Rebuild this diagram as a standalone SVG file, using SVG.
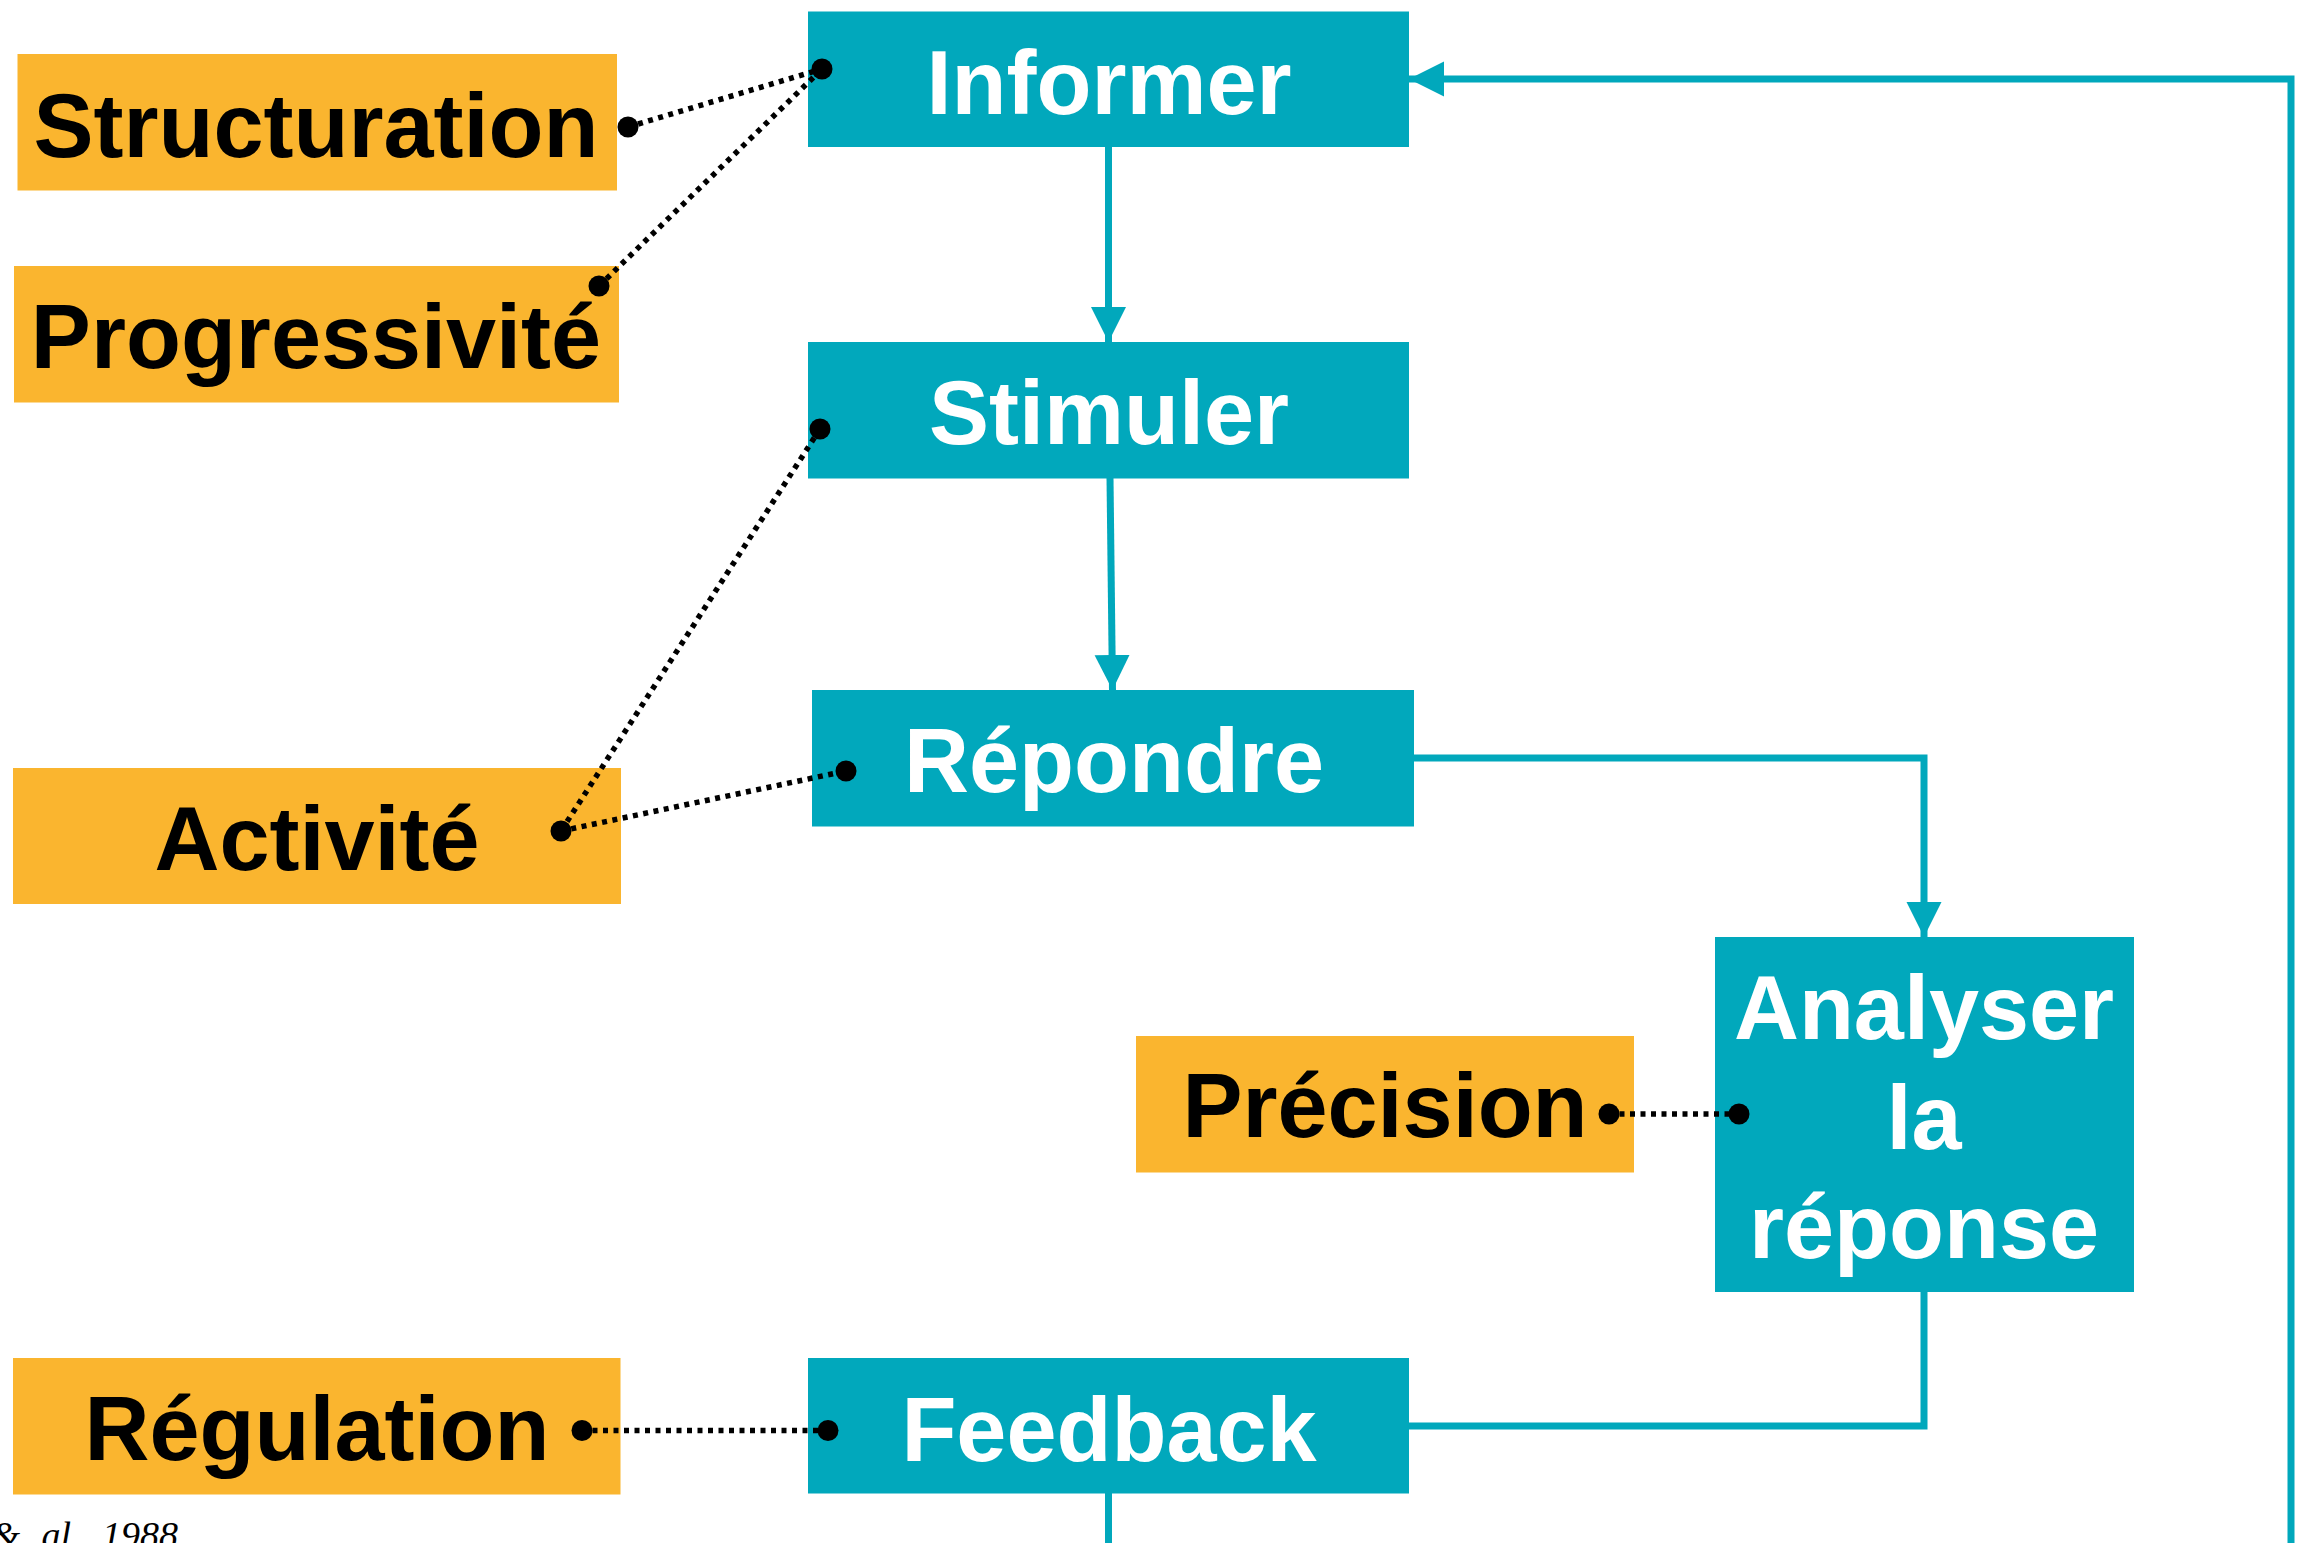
<svg xmlns="http://www.w3.org/2000/svg" width="2299" height="1543" viewBox="0 0 2299 1543">
<style>
.teal{fill:#01A8BC}
.orange{fill:#FAB52F}
.tw{font-family:"Liberation Sans",Arial,sans-serif;font-weight:bold;font-size:90px;fill:#FFFFFF;text-anchor:middle}
.tb{font-family:"Liberation Sans",Arial,sans-serif;font-weight:bold;font-size:90px;fill:#000000;text-anchor:middle}
.flow{fill:none;stroke:#01A8BC;stroke-width:7}
.dot{fill:none;stroke:#000000;stroke-width:5.5;stroke-dasharray:5 5.5}
.pt{fill:#000000}
</style>
<defs>
<marker id="arr" markerUnits="userSpaceOnUse" markerWidth="36" markerHeight="36" refX="35" refY="17.5" orient="auto" viewBox="0 0 36 36">
<path d="M0,0 L35,17.5 L0,35 z" fill="#01A8BC"/>
</marker>
</defs>
<rect width="2299" height="1543" fill="#FFFFFF"/>

<g id="informer">
<rect class="teal" x="808" y="11.5" width="601" height="135.5"/>
<text class="tw" x="1109" y="114">Informer</text>
</g>
<g id="stimuler">
<rect class="teal" x="808" y="342" width="601" height="136.5"/>
<text class="tw" x="1109" y="444">Stimuler</text>
</g>
<g id="repondre">
<rect class="teal" x="812" y="690" width="602" height="136.5"/>
<text class="tw" x="1114" y="792">Répondre</text>
</g>
<g id="analyser">
<rect class="teal" x="1715" y="937" width="419" height="355"/>
<text class="tw" x="1924" y="1039">Analyser</text>
<text class="tw" x="1924" y="1149">la</text>
<text class="tw" x="1924" y="1258">réponse</text>
</g>
<g id="feedback">
<rect class="teal" x="808" y="1358" width="601" height="135.5"/>
<text class="tw" x="1109" y="1461">Feedback</text>
</g>

<g id="structuration">
<rect class="orange" x="17.5" y="54" width="599.5" height="136.5"/>
<text class="tb" x="316" y="157">Structuration</text>
</g>
<g id="progressivite">
<rect class="orange" x="14" y="266" width="605" height="136.5"/>
<text class="tb" x="316" y="368">Progressivité</text>
</g>
<g id="activite">
<rect class="orange" x="13" y="768" width="608" height="136"/>
<text class="tb" x="317" y="870">Activité</text>
</g>
<g id="precision">
<rect class="orange" x="1136" y="1036" width="498" height="136.5"/>
<text class="tb" x="1385" y="1137">Précision</text>
</g>
<g id="regulation">
<rect class="orange" x="13" y="1358" width="607.5" height="136.5"/>
<text class="tb" x="317" y="1460">Régulation</text>
</g>

<g id="connectors">
<line class="flow" x1="1108.5" y1="147" x2="1108.5" y2="342" marker-end="url(#arr)"/>
<line class="flow" x1="1110" y1="478" x2="1112.5" y2="690" marker-end="url(#arr)"/>
<path class="flow" d="M1413,758 H1924 V937" marker-end="url(#arr)"/>
<path class="flow" d="M1924,1292 V1426 H1409"/>
<line class="flow" x1="1108.5" y1="1493" x2="1108.5" y2="1550"/>
<path class="flow" d="M2291,1550 V79 H1409" marker-end="url(#arr)"/>
<line class="dot" x1="628" y1="127" x2="822" y2="69"/>
<line class="dot" x1="599" y1="286" x2="822" y2="69"/>
<line class="dot" x1="820" y1="429" x2="561" y2="831"/>
<line class="dot" x1="561" y1="831" x2="846" y2="771"/>
<line class="dot" x1="1609" y1="1114" x2="1739" y2="1114"/>
<line class="dot" x1="582" y1="1430.5" x2="828" y2="1430.5"/>
<circle class="pt" cx="628" cy="127" r="10.5"/>
<circle class="pt" cx="822" cy="69" r="10.5"/>
<circle class="pt" cx="599" cy="286" r="10.5"/>
<circle class="pt" cx="820" cy="429" r="10.5"/>
<circle class="pt" cx="561" cy="831" r="10.5"/>
<circle class="pt" cx="846" cy="771" r="10.5"/>
<circle class="pt" cx="1609" cy="1114" r="10.5"/>
<circle class="pt" cx="1739" cy="1114" r="10.5"/>
<circle class="pt" cx="582" cy="1430.5" r="10.5"/>
<circle class="pt" cx="828" cy="1430.5" r="10.5"/>
</g>

<text x="178" y="1548" text-anchor="end" font-family="Liberation Serif, Times New Roman, serif" font-style="italic" font-size="38" word-spacing="12" fill="#000000">&amp; al. 1988</text>
</svg>
